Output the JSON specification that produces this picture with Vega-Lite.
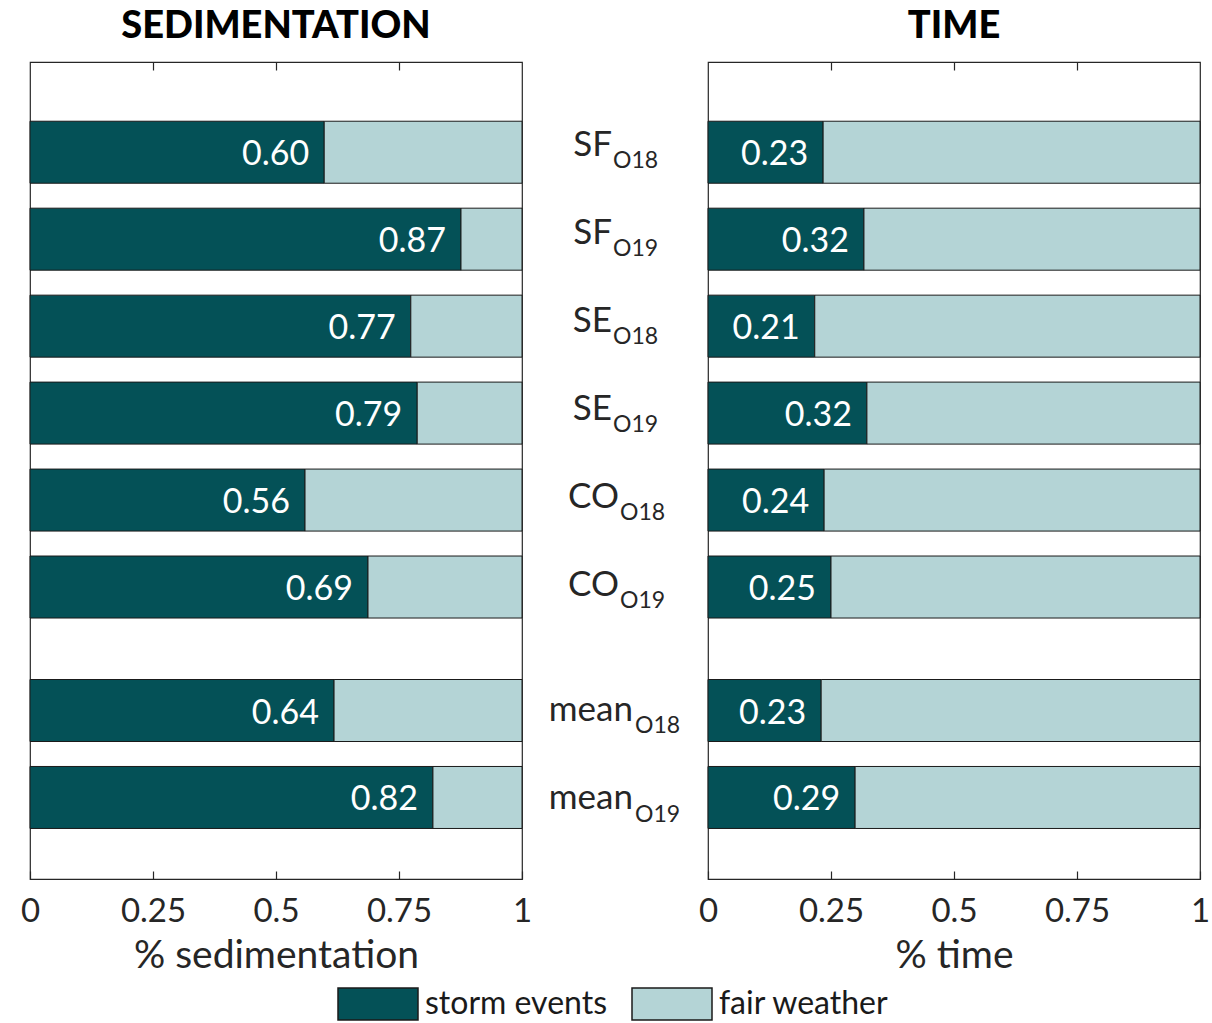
{
  "$schema": "https://vega.github.io/schema/vega-lite/v6.json",
  "padding": {"left": 19, "top": 7, "right": 0, "bottom": 0},
  "data": {"values": [
    {"site": "SF", "sub": "O18", "pos": 1, "sed": 0.598, "sedLab": "0.60", "time": 0.234, "timeLab": "0.23"},
    {"site": "SF", "sub": "O19", "pos": 2, "sed": 0.876, "sedLab": "0.87", "time": 0.317, "timeLab": "0.32"},
    {"site": "SE", "sub": "O18", "pos": 3, "sed": 0.774, "sedLab": "0.77", "time": 0.217, "timeLab": "0.21"},
    {"site": "SE", "sub": "O19", "pos": 4, "sed": 0.787, "sedLab": "0.79", "time": 0.323, "timeLab": "0.32"},
    {"site": "CO", "sub": "O18", "pos": 5, "sed": 0.559, "sedLab": "0.56", "time": 0.236, "timeLab": "0.24"},
    {"site": "CO", "sub": "O19", "pos": 6, "sed": 0.687, "sedLab": "0.69", "time": 0.25, "timeLab": "0.25"},
    {"site": "mean", "sub": "O18", "pos": 7.42, "sed": 0.618, "sedLab": "0.64", "time": 0.23, "timeLab": "0.23"},
    {"site": "mean", "sub": "O19", "pos": 8.42, "sed": 0.819, "sedLab": "0.82", "time": 0.299, "timeLab": "0.29"}
  ]},
  "config": {
    "font": "Lato",
    "view": {"stroke": "#262626", "strokeWidth": 1.2},
    "axis": {
      "labelFont": "Lato", "labelFontSize": 33, "labelColor": "#262626",
      "titleFont": "Lato", "titleFontSize": 39, "titleFontWeight": "normal", "titleColor": "#262626",
      "tickColor": "#262626", "tickWidth": 1.2, "grid": false, "domain": false
    },
    "title": {"font": "Lato", "fontSize": 38, "fontWeight": 900, "color": "#000000", "anchor": "middle", "baseline": "bottom", "offset": 15},
    "legend": {
      "direction": "horizontal", "orient": "none", "legendX": 307, "legendY": 901,
      "symbolType": "M-1,-0.4H1V0.4H-1Z", "symbolSize": 6400,
      "symbolStrokeColor": "#1a1a1a", "symbolStrokeWidth": 1.5, "symbolOpacity": 1,
      "labelFont": "Lato", "labelFontSize": 32, "labelColor": "#1a1a1a", "labelOffset": 6, "labelLimit": 400,
      "columnPadding": 21, "padding": 0
    }
  },
  "bounds": "flush",
  "spacing": 0,
  "resolve": {"scale": {"x": "independent", "color": "shared"}},
  "hconcat": [
    {
      "width": 492, "height": 817,
      "title": {"text": "SEDIMENTATION"},
      "encoding": {
        "y": {"field": "pos", "type": "quantitative", "scale": {"domain": [0.02, 9.3], "reverse": true, "nice": false, "zero": false}, "axis": null}
      },
      "resolve": {"axis": {"x": "independent"}},
      "layer": [
        {
          "mark": {"type": "bar", "height": 62, "stroke": "#1a1a1a", "strokeWidth": 1},
          "encoding": {
            "x": {"field": "sed", "type": "quantitative", "scale": {"domain": [0, 1], "nice": false},
                  "axis": {"orient": "bottom", "values": [0, 0.25, 0.5, 0.75, 1], "labelExpr": "'' + datum.value", "tickSize": -8, "labelPadding": 24, "title": "% sedimentation", "titlePadding": 8, "labelFlush": false}},
            "x2": {"datum": 0},
            "color": {"datum": "storm events", "type": "nominal",
                      "scale": {"domain": ["storm events", "fair weather"], "range": ["#045157", "#b4d4d6"]},
                      "legend": {"title": null}}
          }
        },
        {
          "mark": {"type": "bar", "height": 62, "stroke": "#1a1a1a", "strokeWidth": 1},
          "encoding": {
            "x": {"field": "sed", "type": "quantitative",
                  "axis": {"orient": "top", "values": [0.25, 0.5, 0.75], "tickSize": -8, "labels": false, "title": null}},
            "x2": {"datum": 1},
            "color": {"datum": "fair weather", "type": "nominal"}
          }
        },
        {
          "mark": {"type": "text", "align": "right", "baseline": "alphabetic", "dx": -15, "dy": 13, "fontSize": 34, "color": "#ffffff"},
          "encoding": {
            "x": {"field": "sed", "type": "quantitative", "axis": null},
            "text": {"field": "sedLab"}
          }
        }
      ]
    },
    {
      "width": 186, "height": 817,
      "view": {"stroke": null},
      "encoding": {
        "y": {"field": "pos", "type": "quantitative", "scale": {"domain": [0.02, 9.3], "reverse": true, "nice": false, "zero": false}, "axis": null}
      },
      "layer": [
        {
          "mark": {"type": "text", "align": "right", "baseline": "alphabetic", "dy": 7.5, "fontSize": 35, "color": "#262626",
                   "dx": {"expr": "datum.site == 'mean' ? 15 : datum.site == 'CO' ? 1 : -6"}},
          "encoding": {
            "x": {"datum": 96, "type": "quantitative", "scale": {"domain": [0, 186], "nice": false}, "axis": null},
            "text": {"field": "site"}
          }
        },
        {
          "mark": {"type": "text", "align": "left", "baseline": "alphabetic", "dy": 20, "fontSize": 23, "color": "#262626",
                   "dx": {"expr": "datum.site == 'mean' ? 17 : datum.site == 'CO' ? 2 : -5"}},
          "encoding": {
            "x": {"datum": 96, "type": "quantitative", "axis": null},
            "text": {"field": "sub"}
          }
        }
      ]
    },
    {
      "width": 492, "height": 817,
      "title": {"text": "TIME"},
      "encoding": {
        "y": {"field": "pos", "type": "quantitative", "scale": {"domain": [0.02, 9.3], "reverse": true, "nice": false, "zero": false}, "axis": null}
      },
      "resolve": {"axis": {"x": "independent"}},
      "layer": [
        {
          "mark": {"type": "bar", "height": 62, "stroke": "#1a1a1a", "strokeWidth": 1},
          "encoding": {
            "x": {"field": "time", "type": "quantitative", "scale": {"domain": [0, 1], "nice": false},
                  "axis": {"orient": "bottom", "values": [0, 0.25, 0.5, 0.75, 1], "labelExpr": "'' + datum.value", "tickSize": -8, "labelPadding": 24, "title": "% time", "titlePadding": 8, "labelFlush": false}},
            "x2": {"datum": 0},
            "color": {"datum": "storm events", "type": "nominal", "legend": null}
          }
        },
        {
          "mark": {"type": "bar", "height": 62, "stroke": "#1a1a1a", "strokeWidth": 1},
          "encoding": {
            "x": {"field": "time", "type": "quantitative",
                  "axis": {"orient": "top", "values": [0.25, 0.5, 0.75], "tickSize": -8, "labels": false, "title": null}},
            "x2": {"datum": 1},
            "color": {"datum": "fair weather", "type": "nominal", "legend": null}
          }
        },
        {
          "mark": {"type": "text", "align": "right", "baseline": "alphabetic", "dx": -15, "dy": 13, "fontSize": 34, "color": "#ffffff"},
          "encoding": {
            "x": {"field": "time", "type": "quantitative", "axis": null},
            "text": {"field": "timeLab"}
          }
        }
      ]
    }
  ]
}
